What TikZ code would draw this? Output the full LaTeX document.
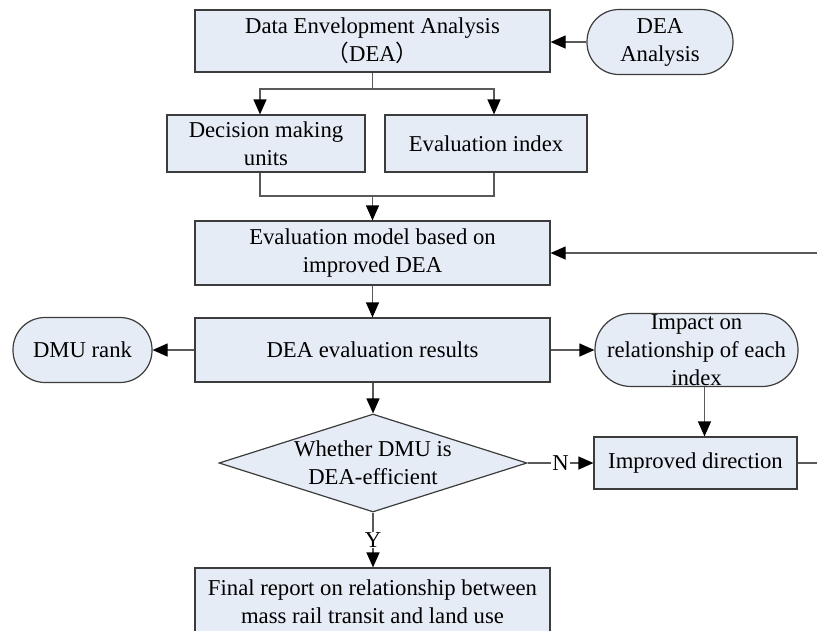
\documentclass[tikz,border=0pt]{standalone}
\usepackage{fontspec}
\setmainfont{Liberation Serif}
\newfontfamily\cjk{Noto Sans CJK SC}
\usetikzlibrary{arrows.meta,shapes.geometric}

\definecolor{boxfill}{RGB}{230,236,246}
\definecolor{boxline}{RGB}{60,60,60}

\begin{document}
\begin{tikzpicture}[x=1pt,y=-1pt,font=\fontsize{22.7}{28}\selectfont]
\tikzstyle{block} = [rectangle, draw=boxline, fill=boxfill, line width=1.2pt, align=center, inner sep=0pt]
\tikzstyle{line} = [draw=boxline!85, line width=1.2pt]
\tikzstyle{arr} = [line, -{Triangle[length=15pt,width=13pt,color=black]}]
\useasboundingbox (0,0) rectangle (817,630);

% boxes
\node[block, minimum width=355pt, minimum height=62pt] (dea) at (372.5,41) {Data Envelopment Analysis\\{\cjk （}DEA{\cjk ）}};
\node[block, rounded corners=32pt, minimum width=146pt, minimum height=65pt] (deaana) at (660,42) {DEA\\Analysis};
\node[block, minimum width=198pt, minimum height=57pt] (dmu) at (266,143.5) {Decision making\\units};
\node[block, minimum width=202pt, minimum height=57pt] (index) at (486,143.5) {Evaluation index};
\node[block, minimum width=355pt, minimum height=64pt] (model) at (372.5,253) {Evaluation model based on\\improved DEA};
\node[block, minimum width=355pt, minimum height=64pt] (result) at (372.5,350) {DEA evaluation results};
\node[block, rounded corners=32pt, minimum width=139pt, minimum height=65pt] (rank) at (82.5,350) {DMU rank};
\node[block, rounded corners=36pt, minimum width=203pt, minimum height=73pt,
  label={[align=center]center:Impact on\\relationship of each\\index}] (impact) at (696.5,350) {};
\node[diamond, draw=boxline, fill=boxfill, line width=1.2pt, inner sep=0pt, minimum width=308pt, minimum height=98pt,
  label={[align=center]center:Whether DMU is\\DEA-efficient}] (decide) at (373,463) {};
\node[block, minimum width=203pt, minimum height=52pt] (improve) at (695.5,463) {Improved direction};
\node[block, minimum width=355pt, minimum height=68pt] (final) at (372.5,602) {Final report on relationship between\\mass rail transit and land use};

% connectors
\coordinate (split) at (372.5,89);
\coordinate (merge) at (372.5,196);
\draw[arr] (deaana.west) -- (deaana.west -| dea.east);
\draw[line] (dea.south) -- (split);
\draw[arr] (split) -| ([xshift=-6pt]dmu.north);
\draw[arr] (split) -| ([xshift=8pt]index.north);
\draw[line] ([xshift=-6pt]dmu.south) |- (merge);
\draw[line] ([xshift=8pt]index.south) |- (merge);
\draw[arr] (merge) -- (model.north);
\draw[arr] (model) -- (result);
\draw[arr] (result) -- (rank);
\draw[arr] (result) -- (impact);
\draw[arr] ([xshift=8pt]impact.south) -- ([xshift=8pt]impact.south |- improve.north);
\draw[arr] (result.south -| decide.north) -- (decide.north);
\draw[arr] (decide.east) -- node[fill=white, inner sep=1pt]{N} (improve.west);
\draw[arr] (decide.south) -- node[fill=white, inner sep=1pt]{Y} (decide.south |- final.north);
\draw[arr] (improve.east) -- ++(40,0) |- (model.east);
\end{tikzpicture}
\end{document}
